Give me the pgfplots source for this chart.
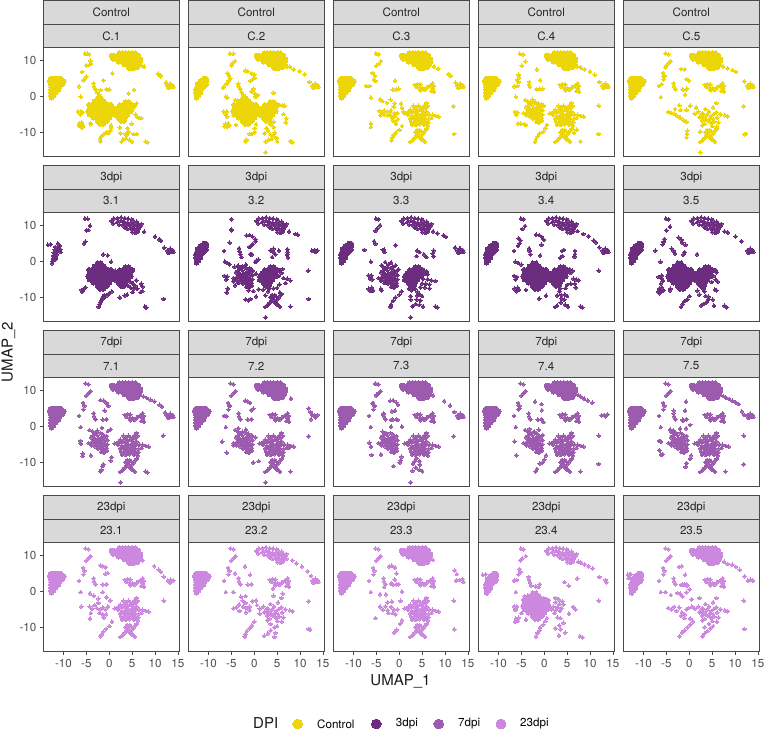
\documentclass[border=0pt]{standalone}
\usepackage{fontspec}
\setmainfont{TeX Gyre Heros}
\usepackage{pgfplots}
\pgfplotsset{compat=1.18}
\definecolor{cA}{HTML}{EDD607}
\definecolor{cB}{HTML}{6C2C80}
\definecolor{cC}{HTML}{9C5BAE}
\definecolor{cD}{HTML}{CC88DE}
\definecolor{gS}{HTML}{D9D9D9}
\definecolor{gB}{HTML}{4A4A4A}
\definecolor{gT}{HTML}{4D4D4D}
\def\cc{cA}
\newcommand\ad[1]{\addplot[only marks,mark=*,mark size=1.85pt,color=\cc,mark options={line width=0pt}] coordinates {#1};}
\newcommand\add[1]{\addplot[only marks,mark=*,mark size=2.3pt,color=\cc,mark options={line width=0pt}] coordinates {#1};}
% --- recurring cell groups ---
\newcommand\mLB{\add{(-12.8,4.8)(-12.2,5)(-11.6,5)(-11,5)(-10.5,4.9)(-13,4.2)(-12.5,4.2)(-11.8,4.2)(-11.1,4.2)(-10.4,4.2)(-9.9,4.2)(-12.8,3.4)(-12.3,3.4)(-11.6,3.4)(-10.9,3.4)(-10.3,3.4)(-12.7,2.6)(-12.2,2.6)(-11.5,2.6)(-10.9,2.6)(-12.7,1.8)(-12.2,1.8)(-11.5,1.8)(-11.1,1.8)(-12.7,1)(-12.3,1)(-11.7,1)(-12.7,.2)(-12.2,.2)(-12.6,-.4)}}
\newcommand\mLM{\add{(-11,5)(-10.5,4.9)(-11.8,4.2)(-11.1,4.2)(-10.4,4.2)(-12.4,3.4)(-11.8,3.4)(-11.1,3.4)(-10.5,3.4)(-12.5,2.6)(-12.1,2.6)(-11.4,2.6)(-11,2.6)(-12.7,1.8)(-12.3,1.8)(-11.6,1.8)(-12.7,1)(-12.2,1)(-11.8,1)(-12.6,.2)(-12.2,.2)(-12.6,-.4)}}
\newcommand\mLS{\ad{(-13.4,4.6)(-12.8,4.7)(-11.2,5)(-11,4.4)(-11.8,4)(-11.2,3.7)(-10.7,3.4)(-11.9,3.2)(-11.3,2.8)(-10.6,2.6)(-12.1,2.4)(-11.4,2)(-12.2,1.6)(-11.6,1.2)(-12.3,.8)(-11.8,.5)(-12.4,.1)(-12.5,-.5)(-10.8,4.4)}}
\newcommand\mTF{\add{(2.2,12)(2.9,12)(3.6,12)(4.3,12)(5,12)(5.7,12)(.5,11.3)(1,11.3)(1.7,11.3)(2.4,11.3)(3.1,11.3)(3.8,11.3)(4.5,11.3)(5.2,11.3)(5.9,11.3)(6.4,11.3)(.8,10.4)(1.5,10.4)(2.2,10.4)(2.9,10.4)(3.6,10.4)(4.3,10.4)(5,10.4)(5.7,10.4)(6.4,10.4)(6.8,10.4)(2,9.6)(2.7,9.6)(3.4,9.6)(4.1,9.6)(4.8,9.6)(5.5,9.6)(6.2,9.6)(6.7,9.6)(3.3,8.8)(4,8.8)(4.7,8.8)(5.4,8.8)(6.1,8.8)(6.5,8.8)(4.2,8.1)(4.9,8.1)(5.6,8.1)(6.2,8.1)(4.6,7.8)(5.3,7.8)}}
\newcommand\mTS{\ad{(.5,11.2)(1,11.9)(1.8,12)(2.6,12.2)(3.4,12)(4.1,11.8)(4.9,11.7)(.9,10.5)(1.7,10.9)(2.5,11.2)(3.2,11)(4,10.8)(4.8,10.8)(5.6,10.8)(6.3,10.5)(2.2,10.2)(3,10)(3.8,9.9)(4.6,9.8)(5.4,9.8)(6.2,9.6)(6.8,9.8)(7,10.4)(4,9)(4.8,8.9)(5.6,8.8)(6.4,9)(5,8.1)(5.7,7.9)(6.2,8.2)(5.2,11.4)(6,11)(3.4,10.5)(4.4,10.2)(5.2,10.3)(6,10.2)(3.4,9.3)(5.2,9.3)(6,9.2)}}
\newcommand\mRB{\ad{(12.7,3)(13.3,3.5)(13.9,3.1)(13.2,2.5)(13.7,2.6)(12.9,2.4)(13.4,3)(14,2.6)}}
\newcommand\mMB{\ad{(3.4,3.2)(4,3.4)(4.6,3.3)(3.8,2.6)(4.4,2.4)(5,2.2)(5.5,1.8)(4.6,1.7)(5.2,2)(6,2.4)(6.6,2.9)(7.3,3.6)(7.5,2.9)(7.4,2.1)(7.6,1.3)(7,1.5)(6.9,2.8)}}
\newcommand\mUL{\ad{(-5.2,11.9)(-4.6,11.7)(-4.1,9.8)(-4.6,9.1)(-5,8.5)(-5.7,6.5)(-5.4,5.7)(-5.6,4.7)(-6.6,2.9)(-6.2,-.2)(-3.4,3.6)(-3.3,2.8)(-3,2)(-1.4,1.9)(-.6,2)}}
\newcommand\mBA{\add{(-2.5,-.5)(-1.8,-.5)(-3.2,-1.4)(-2.5,-1.4)(-1.8,-1.4)(-1.1,-1.4)(-4.4,-2.3)(-3.7,-2.3)(-3,-2.3)(-2.3,-2.3)(-1.6,-2.3)(-.9,-2.3)(-.2,-2.3)(.4,-2.3)(-4.2,-3.2)(-3.5,-3.2)(-2.8,-3.2)(-2.1,-3.2)(-1.4,-3.2)(-.7,-3.2)(0,-3.2)(.7,-3.2)(-4.6,-4.1)(-3.9,-4.1)(-3.2,-4.1)(-2.5,-4.1)(-1.8,-4.1)(-1.1,-4.1)(-.4,-4.1)(.3,-4.1)(1,-4.1)(-4.3,-5)(-3.6,-5)(-2.9,-5)(-2.2,-5)(-1.5,-5)(-.8,-5)(-.1,-5)(.6,-5)(-3.5,-5.9)(-2.8,-5.9)(-2.1,-5.9)(-1.4,-5.9)(-.7,-5.9)(0,-5.9)(-2.6,-6.8)(-1.9,-6.8)(-1.2,-6.8)(-.5,-6.8)(-2,-7.6)(-1.3,-7.6)}}
\newcommand\mBB{\add{(3.5,-1.6)(4.3,-1.6)(2.3,-2.4)(3,-2.4)(3.7,-2.4)(4.4,-2.4)(5.1,-2.4)(1.7,-3.3)(2.4,-3.3)(3.1,-3.3)(3.8,-3.3)(4.5,-3.3)(1.2,-4.2)(1.9,-4.2)(2.6,-4.2)(3.3,-4.2)(4,-4.2)(4.7,-4.2)(1.2,-5.1)(1.9,-5.1)(2.6,-5.1)(3.3,-5.1)(4,-5.1)(2,-6)(2.7,-6)(3.4,-6)(2.6,-6.8)(3.2,-6.8)}}
\newcommand\mBC{\ad{(5.9,-1.8)(5.5,-2.5)(6.2,-2.6)(5.8,-3.3)(5,-3.2)(3.8,-3)(3.2,-3.6)(4.4,-3.8)(5.2,-4.1)(6,-4.2)(2,-4.3)(2.7,-4.4)(3.5,-4.5)(1.2,-4.7)(1.9,-5.1)(2.7,-5.3)(3.4,-5.4)(4.2,-5)(5,-5)(5.8,-5.2)(6.6,-5)(7.3,-5.1)(8,-5.4)(8.6,-5.6)(2.4,-6.1)(3.2,-6.2)(4,-6)(4.8,-5.9)(5.6,-6.1)(6.4,-6.2)(7,-6)(2.6,-7)(3.4,-7)(4.2,-6.9)(5,-6.8)(5.8,-7)(6.4,-7.2)(2.8,-7.9)(3.6,-7.9)(4.5,-7.7)(5.4,-7.9)(6.2,-8.1)(4.2,-2.6)(3.1,-2.6)(4.6,-3)(3.9,-4.2)(2.4,-3.7)(5.6,-4.6)(3,-5.8)(3.8,-5.6)(4.6,-5.3)(5.3,-5.5)(3.7,-6.5)(4.6,-6.4)(5.4,-6.5)(3,-7.5)(4,-7.4)(4.9,-7.3)(5.8,-7.6)}}
\newcommand\mBE{\ad{(5.9,-1.8)(5.2,-3)(3.5,-3.5)(2,-4.2)(1.2,-4.8)(3,-4.8)(4.3,-4.2)(5.9,-4.4)(6.8,-5)(7.8,-5.2)(8.4,-5.5)(2.2,-5.8)(3.5,-5.6)(4.8,-5.4)(6.1,-5.8)(2.8,-6.7)(4.2,-6.8)(5.5,-7)(6.4,-7.2)(3.3,-7.6)(2.9,-8)(5,-8.2)(6,-8.4)(2.6,-5)(3.9,-5)(5.4,-4.9)(4.5,-6)(5.2,-6.3)(3,-6.2)(3.6,-6.4)(4.9,-7.4)}}
\newcommand\mBD{\ad{(-4.5,-4.6)(-3.9,-4.5)(-3.9,-5.2)(-3.3,-4.7)(-3.1,-5.5)(-2.6,-4.9)(-2.2,-5.6)(-1.8,-5.2)(-2.5,-6.2)(-1.7,-6.3)(-1.2,-5.6)(-1,-6.5)(-1.8,-7.1)(-1.1,-7.3)(-.5,-6)(-.9,-4.7)(-2,-4.3)(-2.9,-3.7)(-3.4,-2.4)(-4,-3)(-2.6,-2.5)(-1.7,-3)(-1,-3.4)(-.4,-3.8)(-.4,-5)(-1.9,-1.8)(-3.6,-1.5)(-3.3,-3.3)(-2.3,-3.5)(-1.4,-3.9)(-1.4,-4.8)(-2.9,-1.8)(-1.2,-2.4)(-.5,-2.7)(-3.5,-4)(-2.7,-4.2)(-1.4,-6.9)(-.6,-6.8)}}
\newcommand\mBX{\ad{(3.9,-9.3)(4.5,-9.3)(4.9,-9.8)(3.5,-9.9)(4,-10.6)(3.4,-11.4)(2.8,-12.2)(2.4,-12.6)(4.5,-11.3)(5,-12)(5.6,-12.5)(4.9,-10.6)(5.7,-9.5)(6,-9)(4.2,-10)(3.7,-11)(3.1,-11.8)(4.8,-11.7)(5.3,-10.1)}}
\newcommand\mTL{\ad{(7.5,8.3)(8.2,7.9)(9,7.4)(9.9,6.9)(11,6)(11.5,5.5)(12.2,3.9)(12.5,3.2)}}
\pgfplotsset{panel/.style={
  scale only axis,width=136pt,height=109pt,anchor=south west,
  xmin=-14.4,xmax=15.3,ymin=-16.7,ymax=13.5,
  axis line style={draw=gB,line width=.9pt},
  tick style={draw=gB,line width=.7pt},
  major tick length=3pt,tick align=outside,
  xtick pos=bottom,ytick pos=left,
  xtick=\empty,ytick=\empty,
  /pgf/number format/assume math mode=true,
  ticklabel style={font=\fontsize{11.6}{13}\selectfont,text=gT},
  xticklabel style={yshift=-1pt},
  yticklabel style={xshift=-.5pt}}}
% #1 x left, #2 y bottom, #3 colour, #4 upper strip, #5 lower strip, #6 options, #7 body
\newcommand\panel[7]{%
  \def\cc{#3}%
  \fill[gS] (#1pt,#2pt+109pt) rectangle ++(136pt,47pt);
  \draw[gB,line width=.9pt] (#1pt,#2pt+109pt) rectangle ++(136pt,23.5pt);
  \draw[gB,line width=.9pt] (#1pt,#2pt+132.5pt) rectangle ++(136pt,23.5pt);
  \node[font=\fontsize{11.6}{13}\selectfont,text=black!85] at (#1pt+68pt,#2pt+144.3pt) {#4};
  \node[font=\fontsize{11.6}{13}\selectfont,text=black!85] at (#1pt+68pt,#2pt+120.8pt) {#5};
  \begin{axis}[panel,at={(#1pt,#2pt)},#6]
  #7
  \end{axis}}
\begin{document}
\begin{tikzpicture}
\path[use as bounding box] (0,0) rectangle (764pt,731pt);
% ---------- Control ----------
\panel{43.3}{574.3}{cA}{Control}{C.1}{ytick={-10,0,10}}{\mLB\mTF\mRB\mBA\mBB
\ad{(-5.3,11.9)(-4.8,11.8)(-4.4,11.7)(-4.1,9.9)(-5,8.6)(-4.4,8.7)(-4,9)(-5.9,6.8)(-5.3,5)(-5,5.5)(-5.6,4.5)(-6.6,2.8)(-6.2,-.1)(-1.3,4.5)(.7,6.4)(-3.4,3.6)(-3.3,2.8)(-3,2)(-2.7,1.2)(-2.2,.5)(-.6,2)(0,1.9)(-1.9,1.8)(5.4,1.8)(4.2,.8)(10.7,6.3)(11.3,5.8)(11.2,5.6)(12.4,3.8)(7.6,8.2)(7.1,8.5)(-6.6,-7.5)(-6,-7.2)(-6.3,-8.2)(-5.7,-8)(-5.9,-8.7)(-6.6,-8)(-4,-7.7)(-4.1,-7.4)(-6.8,-4.2)(-6.2,-4.2)(-6.3,-5)(-5.8,-4.4)(.4,-8)(.4,-8.7)(.2,-9.5)(-.2,-10.1)(-.6,-9.9)(-1.2,-10.5)(-1.7,-11)(-2,-11.7)(-1.9,-12.4)(2.3,-8.6)(2.4,-10.2)(3.6,-10.4)(4,-8.8)(4.9,-7.6)(4.2,-9.8)(3.9,-10.6)(3.6,-11.6)(3,-12)(2.7,-12.5)(4.4,-12)(5,-12.6)(5.3,-10.4)(6,-10.4)(7.9,-12.5)(8.3,-12.7)(6,-1.9)(5.6,-2.6)(5.2,-3.3)(5.8,-5)(6.2,-5.7)(6.6,-6)(7,-6)}}
\panel{188.3}{574.3}{cA}{Control}{C.2}{}{\mLM\mTF\mRB\mBA\mBB
\ad{(-5.3,11.9)(-4.6,11.8)(-4.2,9.8)(-5,8.6)(-4.8,9.2)(-2,7.1)(-1.5,7)(-.6,6.4)(0,6)(.1,5.2)(-.9,4.3)(-.4,4.7)(-5.8,6.4)(-5.5,5.8)(-5.2,5)(-5.6,4.3)(-6,3.6)(-6.6,2.8)(-6.8,2.4)(-3.5,3.5)(-3.4,2.8)(-3,2)(-2.8,1.2)(-2.4,.4)(-2,-.3)(-.6,1.4)(-.2,2.1)(.1,.8)(.6,.3)(.7,.4)(.3,-.1)(4.2,1)(-4.2,-1)(-3.6,-1.2)(-6.2,-.1)(-5.9,-.3)(-6.7,-4.2)(-6,-4.2)(-6.3,-5)(-5.9,-5.6)(-6.3,-7.6)(-5.7,-7.4)(-6.5,-8.3)(-5.9,-8.4)(-5.4,-8)(-4,-7.9)(-4.6,-5.2)(7.2,8.2)(7.8,8.2)(8.6,7.5)(9.9,7)(11,6.1)(12,4)(5.6,-2.4)(6.2,-2.5)(6.6,-2.6)(6.4,-4.9)(7,-6.1)(6.9,-7.2)(.4,-7.7)(.1,-8.8)(.1,-9.9)(-1,-10.4)(-.6,-10.4)(-1.7,-12)(-1.9,-12.5)(4.2,-7)(3.6,-7.8)(2.7,-8.8)(3,-9.5)(2.3,-10.2)(3.5,-10.5)(4.5,-10)(4.2,-11)(3.8,-11.8)(3.2,-12)(4.9,-11.5)(2.5,-12.5)(5,-12.4)(4.3,-8.5)(7.9,-12.4)(8.3,-12.7)(2.5,-15.5)}}
\panel{333.3}{574.3}{cA}{Control}{C.3}{}{\mLB\mTF\mRB\mMB\mBC\mBX
\ad{(-5.1,11.9)(-4.5,11.7)(-4,9.8)(-4.5,9)(-5,8.5)(-5.8,6.5)(-5.3,5.7)(-5.5,4.7)(-5.2,4.3)(-7.2,2.9)(-6.5,2.9)(-.9,4.4)(-1.4,1.9)(-.7,2)(-.1,2.1)(-6.2,-.3)(-4.2,-.8)(-3.7,-1.3)(-2.7,-1.8)(-1.9,-.9)(-1,-1.9)(-1.2,-2.8)(.4,-2)(.6,-3.2)(.9,-4.2)(7.1,9.5)(7.6,8.3)(8.5,7.7)(10.7,6.2)(11.2,5.7)(11.8,-2.7)(12,-10.4)(12.3,3.8)(-4.3,-4)(-3.7,-4.6)(-4.1,-5.2)(-3.3,-3.9)(-3.3,-5)(-2.6,-4.2)(-2.5,-5.2)(-2,-4.2)(-1.9,-5.2)(-1.5,-6)(-1.1,-4.6)(-.9,-5.4)(-1.2,-6.8)(-.7,-7.6)(-.3,-6.3)(-1.8,-3.8)(-.4,-4.6)(-6.2,-7.6)(-6.2,-8.5)(.6,-8.2)(0,-9.3)(-.7,-10)(-1.3,-10.7)(-1.5,-11.4)(-1.7,-12.2)}}
\panel{478.3}{574.3}{cA}{Control}{C.4}{}{\mLB\mTF\mRB\mMB\mBC\mBD\mBX
\ad{(-5.3,11.8)(-4.6,11.6)(-4.1,9.7)(-4.9,8.5)(-5.6,6)(-5.5,5.3)(-5.9,4.6)(-5.6,4)(-1.6,7.5)(-.9,4.5)(-6.6,2.8)(-5.9,2.9)(-3.3,4)(-3.3,3.2)(-3.1,2.6)(-1.7,2)(-1,2.1)(-.4,2.1)(-6.2,-.1)(11.9,-2.6)(11.9,-10.4)(7.2,8.3)(8,8)(8.8,7.5)(10,6.9)(11,6)(12,4)(-4.2,-1)(-3.5,-1.6)(-2.6,-.9)(-2,-1.5)(-1.3,-1.9)(-.6,-2.1)(-.1,-2.6)(-3,-2)(-6.4,-4.3)(-5.9,-4.4)(-6.1,-5)(-5.7,-7.5)(-5.1,-7.6)(-4.4,-7.7)(-4,-7.9)(.6,-7.9)(.2,-8.8)(-.2,-9.8)(-1,-10.2)(-1.4,-11)(-1.8,-11.8)(-2,-12.6)(7.9,-12.5)(6.5,-10)(7.1,-9.2)}}
\panel{623.3}{574.3}{cA}{Control}{C.5}{}{\mLB\mTF\mRB\mMB\mBE\mBX\mUL
\ad{(-5.2,8)(-5.6,5.5)(-6,3.4)(-1.8,7.6)(-1,7.5)(-.6,4.8)(-.1,4.4)(-1.4,2)(-.5,2.1)(-.9,.5)(7.4,8.3)(8.4,7.8)(9.4,7.3)(10.2,6.8)(12,4.2)(11.9,-2.7)(-4.6,-4.3)(-3.9,-4.6)(-3.2,-4.8)(-2.6,-5.4)(-1.9,-5.9)(-1.2,-6.6)(-.6,-7)(-3.1,-3.5)(-1.9,-3.8)(-.6,-3.7)(-2.2,-2.4)(.2,-2.6)(1.5,-3.1)(-.4,-9.5)(-.5,-10.4)(-.6,-11.4)(2.4,-9.8)(2.4,-15.5)(12,-10.5)(12.4,-10.4)}}
% ---------- 3dpi ----------
\panel{43.3}{409.3}{cB}{3dpi}{3.1}{ytick={-10,0,10}}{\mLS\mTS\mRB\mBA\mBB
\ad{(-5.3,11.9)(-4.7,11.8)(-4.2,9.9)(-5,8.6)(-4.6,8.7)(-5.5,5)(-5.2,5.5)(-1.3,1.9)(-.3,1.7)(.4,-.1)(7.6,8.2)(10,6.9)(10.9,6.1)(11.3,5.7)(12,3.8)(-6,-7.9)(-5.5,-7.5)(-5.2,-7.2)(-5.9,-8.4)(.6,-8.3)(0,-8.8)(-.5,-9.4)(-1,-9.9)(-1.4,-10.3)(-1.8,-10.8)(-1.6,-10.2)(-1.1,-9.3)(-1.9,-11.3)(-2.1,-11.9)(-2.3,-12.6)(2.3,-10)(3.4,-9.4)(3.9,-9.2)(5.1,-8.5)(6.1,-7.6)(5.7,-6.8)(7.2,-8.2)(7.3,-7)(7,-6.2)(5.9,-5.2)(6.9,-8.5)(11.9,-10.4)(7.8,-12.5)(8.1,-12.8)(2.3,-6.7)(3,-7)(3.7,-6.3)(4.2,-6.8)(4.6,-5.6)(5.2,-6.2)(4.7,-7.3)(5.3,-7.6)(.9,-4.2)(1,-5)(1.4,-3.9)(1.3,-2.6)}}
\panel{188.3}{409.3}{cB}{3dpi}{3.2}{}{\mLM\mTS\mBB\mBD\mBX
\ad{(12.6,3)(13.2,3.2)(13.8,3)(13.4,2.6)(3.6,3.1)(4.2,3.5)(4.2,2.6)(4.6,2)(3.9,1.2)(5.4,3)(7.2,3.4)(7.3,2.6)(7.2,1.8)(7.4,1.1)(-1.7,7.2)(-1,7.3)(-.4,6.9)(.2,6.2)(.3,5.6)(-.3,4.8)(-.7,4.4)(-1.1,4)(-5.4,5.2)(-5,8.6)(-5,8.9)(-5,11.7)(-6.6,2.9)(-3.3,3.6)(-3.2,2.7)(-3,1.9)(-2.8,1.2)(-.9,2)(-.5,2)(.5,.3)(.9,.5)(.2,-.2)(-6.4,-.1)(-5.9,-.4)(-5.4,-.8)(7.6,8.3)(9,7.6)(9.5,7.4)(11.8,-2.6)(11.9,-10.4)(-5.8,-7.5)(-6,-8.6)(-6.5,-4)(-5.9,-4.2)(-6.1,-5)(-4.3,-1.5)(-3.5,-1.2)(-2.6,-1.3)(-1.8,-.9)(-1,-1.8)(-.3,-2.6)(.4,-3.4)(-4.6,-5.5)(-4.2,-6.6)(-3.5,-6)(-1.2,-8)(-.2,-8.2)(5.6,-2.4)(6,-3.2)(6.2,-2.1)(5.4,-4)(6.4,-4.6)(7.2,-4.8)(7.9,-5.3)(6.8,-6)(5.5,-6.4)(5,-7.3)(4.2,-7.5)(3.2,-7.6)(2,-7.8)(1,-7.7)(2.4,-9.4)(3,-8.3)(5.6,-8.6)(-1.9,-10.5)(-1.2,-10.8)(-.8,-10.4)(.4,-9.7)(7.9,-12.5)(2.5,-15.5)}}
\panel{333.3}{409.3}{cB}{3dpi}{3.3}{}{\mLM\mTS\mRB\mBD\mBB
\ad{(-5.1,11.9)(-4.5,11.7)(-4.2,10)(-4.8,9.1)(-5.2,8.5)(-5.5,5.6)(-5.2,4.9)(-7.6,3.2)(-.8,4.5)(-3.3,3.3)(-3.2,2.6)(-3.6,3.2)(3.9,3)(4.4,2.6)(3.8,1.5)(5.4,2)(7.5,3)(7.3,2.2)(7.5,1.4)(5.9,1.2)(7.4,8.3)(8.3,7.8)(9.7,7.2)(10.2,6.8)(12.2,3.8)(13.2,3.6)(-6.2,-.1)(-3.8,-1)(-3.1,-.2)(-2.4,-.9)(-1.8,-.3)(-1.4,-1.5)(-.8,-1.1)(-.2,-2.2)(-6.7,-3.9)(-6.1,-3.9)(-6.4,-4.7)(-5.9,-5)(-6.7,-7.6)(-6,-7.3)(-6.3,-8.2)(-5.7,-8)(-4,-7.6)(-3.9,-8)(-4,-5.4)(-3.2,-6)(5.3,-2.4)(6,-2.8)(6.2,-3.6)(5.5,-3.5)(5.2,-4.8)(6.2,-5)(7,-5.2)(7.9,-5.4)(5,-6.1)(5.8,-6.2)(6.6,-6.4)(4.6,-7.2)(5.6,-7.2)(6.6,-7.5)(2.1,-7.6)(2.7,-8)(3.4,-7.6)(4,-8.4)(2.5,-9.6)(2.5,-10.6)(.5,-8.3)(0,-9.2)(-.8,-10)(-1.3,-10.9)(-1.8,-12)(-1.9,-12.6)(3.9,-9.4)(4.5,-9.2)(5,-9.6)(3.8,-10.6)(4.6,-10.8)(3.6,-11.8)(2.9,-12.4)(4.4,-12)(5.2,-12.5)(7.9,-12.5)(8.3,-12.7)(2.5,-15.5)}}
\panel{478.3}{409.3}{cB}{3dpi}{3.4}{}{\mLM\mTS\mRB\mBA\mBB
\ad{(-5.1,11.9)(-4.5,11.7)(-4.2,9.8)(-4.8,9)(-5.6,6.4)(-5.2,5.8)(-5.4,5)(-5.7,4.3)(-6.6,2.9)(-1.8,7.4)(-1.1,7.3)(-.5,6.8)(-.1,6)(-.6,4.6)(-3.3,3.6)(-3.2,2.9)(-3,1.9)(-.9,1.7)(3.9,2.9)(4.3,3.2)(4,1.5)(3.5,1)(6.7,2.9)(6.7,2)(6.6,1.3)(7.3,8.4)(8.5,7.6)(9.7,7)(10.8,5.8)(11.3,5.3)(12,3.9)(-6.3,-.1)(-5.7,-.4)(-5,-.9)(-6.6,-4)(-6,-4.3)(-6.3,-5)(-6.5,-7.6)(-5.8,-7.3)(-6,-8.3)(-5.5,-7.9)(-4,-7.9)(5.6,-2.2)(6.2,-2.6)(5.7,-3.2)(6.4,-4.8)(7,-5)(7.5,-5.2)(6.7,-6.2)(6.9,-7.2)(5,-6.5)(5.8,-6.2)(4.7,-7.4)(3.5,-7.5)(3.3,-8.3)(2.8,-9.4)(3.7,-9.3)(4.5,-9.2)(5,-9.6)(3.7,-10.2)(4.4,-10.6)(3.6,-11.4)(2.8,-12.2)(2.4,-12.6)(4.6,-12)(5.2,-12.5)(-1.1,-10.3)(.4,-9.5)(7.9,-12.5)(8.3,-12.7)(11.9,-2.6)}}
\panel{623.3}{409.3}{cB}{3dpi}{3.5}{}{\mLM\mTS\mRB\mBA\mBB
\ad{(-5.1,11.9)(-4.5,11.7)(-4.2,9.6)(-5,8.6)(-5.4,6.2)(-5.6,5.4)(-5.8,4.7)(-7.4,3)(-2.3,6.6)(-1.7,6)(-1.5,5.2)(-.8,4.6)(-3.8,3.5)(-3.4,2.9)(-3.1,2.2)(-1.3,1.9)(-1,2.6)(1.7,2)(-6.3,-.1)(7.7,8.3)(8.4,8)(10.1,6.9)(11.4,5.6)(-6.7,-4.3)(-6,-3.9)(-6,-4.8)(-5.7,-5.4)(-6.2,-6.2)(-6.6,-7.6)(-6,-7.2)(-6.8,-8.4)(-6.1,-8.2)(-5.6,-8)(-6.4,-8.8)(-4.1,-7.6)(-4.2,-8)(1.8,-8.1)(2.2,-9.2)(5.8,-2.4)(6,-3)(5.2,-2.6)(5.3,-4)(5.8,-5)(6.2,-5.6)(4.9,-5.7)(5.6,-7.8)(5.9,-8)(3.1,-7.6)(3.3,-8.3)(3.6,-9.6)(4.2,-9.8)(4.1,-10.6)(3.8,-11.3)(3.1,-11.8)(2.6,-12.2)(5.1,-10.6)(5.4,-12.3)(.1,-9.6)(-.4,-10.5)(-1,-11)(-1.4,-11.8)(-1.8,-12.6)(7.7,-12.3)(8.2,-12.7)}}
% ---------- 7dpi ----------
\panel{43.3}{244.3}{cC}{7dpi}{7.1}{ytick={-10,0,10}}{\mLB\mTF\mRB\mMB\mBC\mBD\mBX\mUL\mTL
\ad{(-1.9,7.3)(-1.2,7.1)(-.6,6.5)(-.2,5.7)(-1,4.4)(11.8,-2.6)(-6.3,-4)(-6.2,-4.8)(-5.8,-7.5)(-5.8,-8.2)(-4,-8)(2.5,-15.5)(.5,-8.5)(.3,-9.5)(-1.5,-11)(-1.7,-12)(-1.3,-10.5)(-1.9,-12.5)(7.9,-12.5)(8.3,-12.7)(-4.3,-1)(-2.6,-1.2)(-1.6,-.4)(-.3,-1.3)(.3,-.8)}}
\panel{188.3}{244.3}{cC}{7dpi}{7.2}{}{\mLB\mTF\mMB\mBC\mBD\mBX\mUL
\ad{(13.2,3)(13.8,3.2)(13.4,2.5)(12.7,3.3)(12.4,2)(11.9,5)(12.3,4)(12.6,3.2)(8,7.7)(-2,7.1)(-1.5,7)(-.9,6.5)(-.7,4.5)(-.2,4.9)(-5.4,5.9)(-6.4,2.9)(-6,2.8)(-7,-4.2)(-6,-7.3)(-4.6,-5.2)(11.9,-2.7)(2.5,-15.5)(7.5,-6)(-4.2,-1)(-3.5,-.5)(-2.6,-1.5)(-1.8,-.9)(-1.3,-2)(-.5,-2.4)(.2,-3)(7.9,-12.5)(1,-9.6)(-.2,-10)}}
\panel{333.3}{244.3}{cC}{7dpi}{7.3}{}{\mLB\mTF\mRB\mMB\mBC\mBD\mUL
\ad{(-5.2,11.8)(-4.9,8.9)(-5.8,6.4)(-5.4,5.8)(-2,7.1)(-1.3,7.2)(-.6,6.6)(-.3,6)(-.9,4.4)(-1.6,4.2)(-3.5,3.2)(-1.8,1.8)(-.3,1.8)(.6,-.1)(-1.8,-.1)(-6.2,-.2)(7.4,8.6)(9.8,7)(11.1,5.8)(12,4)(11.9,-2.7)(-6.5,-4.5)(-6.2,-5.6)(-6,-7.9)(-4,-7.8)(.5,-8.4)(.3,-9.4)(.1,-10)(-1.3,-11)(2.5,-15.5)(3.8,-8.8)(4.4,-9.6)(3.4,-9.6)(3,-10.4)(4.5,-10.6)(3.6,-11.4)(2.9,-12.3)(4.4,-12)(5,-12.4)}}
\panel{478.3}{244.3}{cC}{7dpi}{7.4}{}{\mLB\mTF\mMB\mBC\mBD\mBX\mUL
\ad{(7.4,8.7)(8,8.2)(8.7,7.7)(9.5,7.2)(10.5,6.6)(13.2,3.2)(13.8,3.3)(12.5,3)(13.4,2.8)(-5.6,5.8)(-5.4,5)(-2,6.9)(-.6,6.2)(-.5,4.5)(-1.4,1.8)(-.2,1.2)(-6.5,-4.2)(-6.1,-8)(.4,-8)(0,-9.2)(-.4,-10)(-1,-10.3)(-1.6,-11.8)(-1.9,-12.5)(7.9,-12.5)(11.9,-2.6)(11.9,-10.4)(-4.2,-1)(-3.2,-.7)(-2.2,-1.4)(-1.2,-.9)(-.3,-2.4)}}
\panel{623.3}{244.3}{cC}{7dpi}{7.5}{}{\mLB\mTF\mRB\mMB\mBC\mBD\mBX\mUL
\ad{(7.4,8.4)(8,8)(8.7,7.6)(9.4,7.1)(10.1,6.7)(10.8,6.2)(11.5,4.2)(12,3.2)(11.9,-2.6)(11.9,-10.5)(-.9,4.4)(-.7,6.9)(-3.4,4.4)(-1.4,1.6)(.2,.4)(-.7,-.5)(-2,-.6)(-3.4,-1.2)(-4.2,-.9)(-6.2,-4.2)(-6.6,-4)(-6.5,-6.6)(-6.2,-7.8)(-5.8,-7.7)(.4,-8)(.2,-9)(-.6,-10.2)(-.8,-11.2)(7.9,-12.5)(-4,-1.5)}}
% ---------- 23dpi ----------
\panel{43.3}{79.3}{cD}{23dpi}{23.1}{ytick={-10,0,10},xtick={-10,-5,0,5,10,15}}{\mLB\mTF\mMB\mBC\mBX\mUL
\ad{(7.3,8.6)(9.8,7)(10.8,6)(11.3,5.4)(11.9,4.1)(12.8,3)(13.4,3.3)(14,3)(13.2,2.4)(-1.9,7.2)(-1.4,7)(-.8,6.7)(-.8,4.9)(-.3,5.1)(11.9,-2.6)(-4.2,-.5)(-3.4,-1.2)(-2.4,-2)(-1.4,-.2)(-.6,-1.6)(.2,-2.5)(-4.3,-4.2)(-3.7,-4.8)(-3.2,-3.8)(-2.4,-3.2)(-2.7,-4.6)(-2,-5)(-1.4,-4.4)(-.8,-5)(-.3,-4.2)(-2.1,-6)(-1.4,-6.4)(-.7,-6.3)(-1.2,-7.2)(-6.1,-4.2)(-4,-6)(-4.2,-7.5)(.6,-8.4)(0,-9.6)(-.7,-10.4)(-1.3,-11.2)(-1.7,-12)(-1.9,-12.5)}}
\panel{188.3}{79.3}{cD}{23dpi}{23.2}{xtick={-10,-5,0,5,10,15}}{\mLB\mTS\mRB\mMB\mBE\mUL
\ad{(7,9)(8.3,8.6)(9.2,7.8)(10.4,6.9)(11.7,5.6)(12.4,4.3)(-4.2,5)(-2,6.9)(-.9,4.6)(-3.4,3.6)(4.2,-1.2)(4.1,.8)(6.2,-.6)(-4.6,-.2)(-2.9,-1.5)(-1.9,-1.3)(-4.5,-4.7)(-3.9,-4.4)(-3.3,-3.6)(-3.2,-5.4)(-2.5,-2.6)(-1.9,-3.2)(-2.4,-4.2)(-1.7,-4.6)(-1,-4.2)(-1,-5.2)(-1.8,-5.8)(-.4,-2.7)(.4,-2.5)(.6,-3.8)(1.2,-6.2)(0,-8.4)(-.5,-9.4)(-1,-10.2)(-1.6,-11)(-1.9,-11.8)(-2.1,-12.5)(2.2,-12.3)(3,-11.6)(3.6,-10.8)(4.4,-10)(5,-9.6)(3.6,-9)(4.6,-11.5)(4.4,-12.6)(11.9,-10.4)(12.2,-10.5)(11.9,-2.7)}}
\panel{333.3}{79.3}{cD}{23dpi}{23.3}{xtick={-10,-5,0,5,10,15}}{\mLB\mTF\mMB\mBC\mBX\mUL
\ad{(7.4,8.7)(12.1,5.8)(12.6,4.8)(13.2,3.2)(13.8,3.4)(14,2.6)(12.4,3)(-2.2,6.9)(-1.6,7.1)(-.9,6.6)(-.6,5)(-1,3.3)(-3.3,1.2)(-1.8,2.1)(-.6,1.9)(-.1,2)(.6,-.1)(11.9,-2.6)(12,-10.5)(-4.2,-.8)(-2.9,-.8)(-2.5,-3)(-1.6,-2.8)(.3,-2.6)(-4.2,-4.2)(-3.6,-5)(-3,-4.2)(-2.5,-5.2)(-1.8,-4.3)(-1.2,-5)(-1.4,-6)(-.8,-6.4)(-2.4,-6)(-.4,-5)(-5.2,-7.4)(.6,-8)(.2,-9)(-.6,-10.6)(-1.1,-11.4)}}
\panel{478.3}{79.3}{cD}{23dpi}{23.4}{xtick={-10,-5,0,5,10,15}}{\mLM\mLS\mTS\mBA
\ad{(-5.1,11.9)(-4.6,11.7)(-4,9.8)(-4.8,9.2)(-5.2,8.6)(-5.4,6.2)(-5.2,5.4)(-5.6,4.7)(-6.6,3)(-6,3.2)(-3.4,4)(-3.3,3.2)(-3.1,2.4)(-2.8,1.6)(-1.9,1.4)(-1,2)(-1.2,1.2)(4.4,2.6)(5.3,1.6)(7.2,3.6)(-6.2,-.2)(7.4,8.2)(8,8)(8.8,7.5)(9.7,7)(10.6,6.4)(12,4)(13.4,3.2)(13.6,2.5)(11.9,-2.6)(-4.3,-1.3)(-3.6,-1.1)(-.1,-1.8)(1,-2.4)(2.4,-1.8)(3.2,-2.2)(4,-2.8)(2.5,-3)(3.3,-3.5)(4.2,-3.6)(2,-4.2)(2.9,-4.4)(3.7,-4.6)(1.6,-5)(2.5,-5.2)(3.4,-5.4)(2.2,-6)(6.3,-4.3)(6.8,-5)(5.4,-6.2)(-6.6,-4.1)(-6,-4.2)(-6.3,-5.1)(-6.2,-7.5)(-5.6,-7.3)(-6.4,-8.4)(-5.8,-8.2)(-4,-7.8)(.2,-8.2)(.6,-7.4)(-.2,-9.2)(-.9,-10)(-1,-10.8)(-1.5,-11.5)(-1.8,-12.4)(2.9,-7.2)(3.5,-7.4)(3.3,-9.4)(4.2,-8.7)(2.4,-10.2)(3.6,-10.5)(4.6,-11.4)(3.2,-12.2)(7.8,-12.4)(8.3,-12.7)(-5,-6)}}
\panel{623.3}{79.3}{cD}{23dpi}{23.5}{xtick={-10,-5,0,5,10,15}}{\mLM\mLS\mTF\mMB\mBE\mUL
\ad{(-13,4.6)(-13.2,3.7)(7.6,8.2)(8.4,7.6)(9.4,7.4)(10.2,6.8)(11,6)(12.1,4.2)(12.8,3)(13.4,3.3)(13.9,3)(-2.2,6.8)(-1.6,7)(-.9,4.6)(-5.2,-.2)(-1.8,1.8)(-1,2)(-.4,1.6)(.1,.6)(-2.6,-.4)(-2,-.6)(-1.5,-1.4)(-.6,-.3)(-4,-1)(.5,-2.2)(2.2,-1.8)(11.9,-2.6)(12,-10.4)(-4.6,-4.6)(-3.9,-5)(-3.3,-4.3)(-2.8,-5.4)(-2.2,-4.4)(-1.6,-5.8)(-1,-6.4)(-.6,-5)(-.2,-4.6)(-1.8,-6.8)(-1.1,-7.4)(.6,-4.2)(.2,-7.5)(.8,-8.3)(.2,-9.2)(-.4,-10)(-1,-10.8)(-1.6,-11.4)(-2.1,-12.4)(2.9,-12.4)(3.4,-11.6)(4,-11)(4.6,-10.2)(3.4,-9.9)(5.2,-9.6)(4.3,-9)}}
% ---------- shared titles and legend ----------
\node[font=\fontsize{15}{17}\selectfont,text=black!90] at (400.5pt,50pt) {UMAP\_1};
\node[font=\fontsize{15}{17}\selectfont,text=black!90,rotate=90] at (8.5pt,379pt) {UMAP\_2};
\node[font=\fontsize{15}{17}\selectfont,text=black!90,anchor=west,inner sep=0pt] at (253pt,7.5pt) {DPI};
\begin{axis}[at={(0pt,0pt)},anchor=south west,scale only axis,width=764pt,height=731pt,xmin=0,xmax=764,ymin=0,ymax=731,hide axis,clip=false]
\addplot[only marks,mark=*,mark size=4.9pt,color=cA,mark options={line width=0pt}] coordinates {(297.7,7)};
\addplot[only marks,mark=*,mark size=4.9pt,color=cB,mark options={line width=0pt}] coordinates {(376.3,7)};
\addplot[only marks,mark=*,mark size=4.9pt,color=cC,mark options={line width=0pt}] coordinates {(438.7,7)};
\addplot[only marks,mark=*,mark size=4.9pt,color=cD,mark options={line width=0pt}] coordinates {(501,7)};
\end{axis}
\foreach \px/\lab in {317/Control,395.7/3dpi,458/7dpi,520/23dpi}
  \node[font=\fontsize{11.6}{13}\selectfont,text=black,anchor=west,inner sep=0pt] at (\px pt,7pt) {\lab};
\end{tikzpicture}
\end{document}
